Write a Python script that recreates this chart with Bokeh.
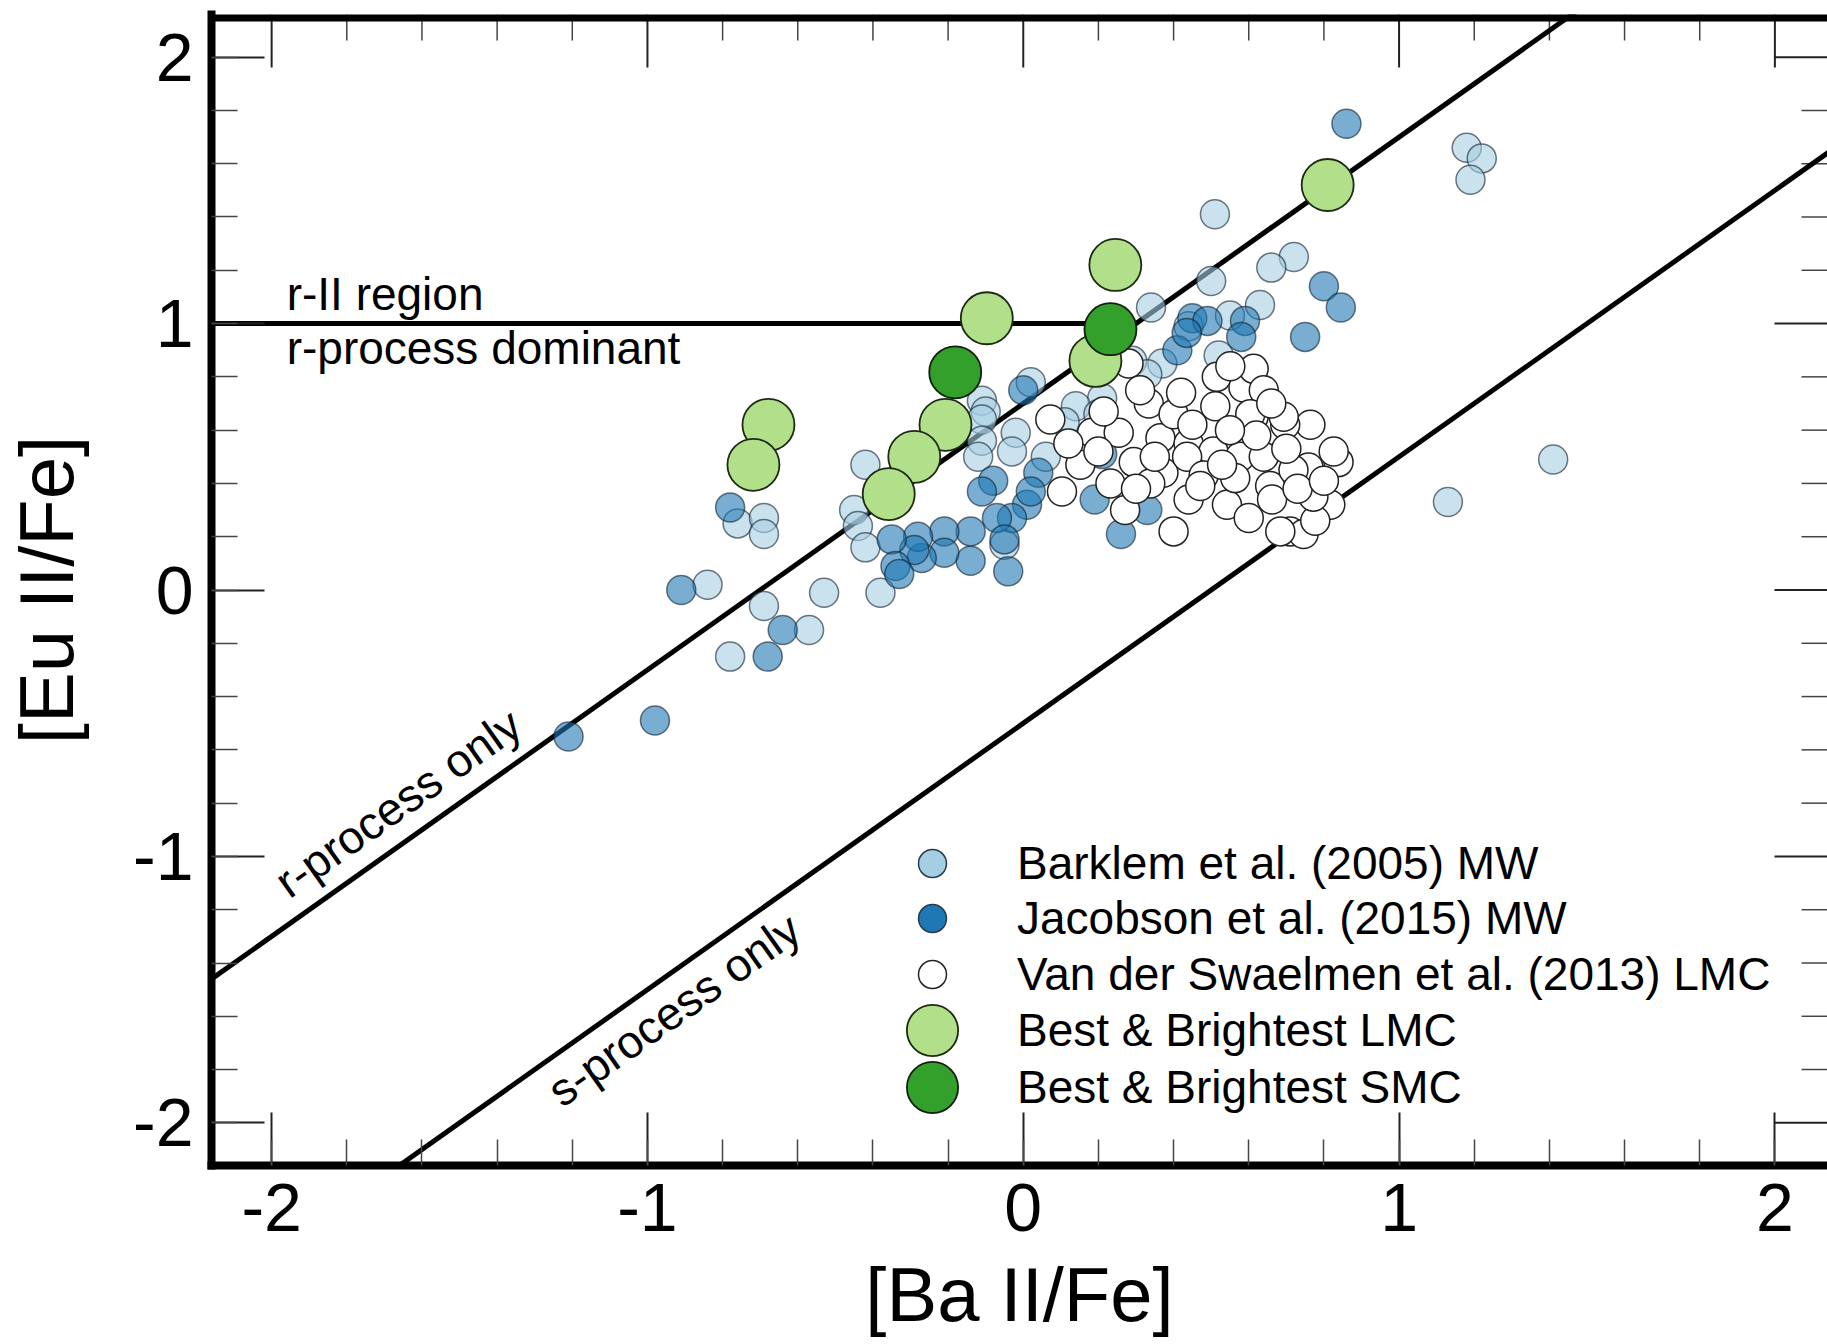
import numpy as np
from bokeh.plotting import figure
from bokeh.models import (Range1d, SingleIntervalTicker, Legend, LegendItem, Label, Span)
from bokeh.embed import file_html
from bokeh.resources import INLINE

FONT = "Liberation Sans"

# ---- data: [Ba II/Fe] (x) and [Eu II/Fe] (y) ----
barklem_ba = [1.18, 1.22, 1.19, 0.51, 0.72, 0.66, 0.50, 0.34, 0.63, 0.44, 0.55,
              1.13, 1.41, 0.52, 0.37, 0.29, 0.33, 0.21, 0.14, 0.02, -0.11, -0.10,
              -0.11, -0.11, -0.12, -0.02, -0.03, 0.06, -0.05, -0.42, -0.45, -0.44,
              -0.42, -0.38, -0.53, -0.57, -0.69, -0.84, -0.78, -0.76, -0.69, -0.69,
              0.20, 0.11]
barklem_eu = [1.66, 1.62, 1.54, 1.41, 1.25, 1.21, 1.16, 1.06, 1.07, 0.99, 1.03,
              0.33, 0.49, 0.88, 0.85, 0.86, 0.81, 0.72, 0.69, 0.78, 0.71, 0.67,
              0.64, 0.56, 0.50, 0.59, 0.52, 0.50, 0.17, 0.47, 0.30, 0.24,
              0.16, -0.01, -0.01, -0.15, -0.06, 0.02, -0.25, 0.25, 0.27, 0.21,
              0.66, 0.63]

jacobson_ba = [0.86, 0.80, 0.845, 0.75, 0.45, 0.59, 0.58, 0.41, 0.49, 0.435,
               0.00, -0.08, -0.11, 0.04, 0.01, -0.03, -0.07, -0.05, -0.04, -0.14,
               -0.14, -0.21, -0.21, -0.27, -0.28, -0.29, -0.35, -0.34, -0.33, 0.19,
               0.26, 0.33, 0.21, -1.21, -0.98, -0.68, -0.64, -0.91, -0.78, 0.02]
jacobson_eu = [1.75, 1.14, 1.06, 0.95, 1.02, 1.01, 0.95, 0.90, 1.01, 0.965,
               0.75, 0.41, 0.37, 0.44, 0.32, 0.27, 0.27, 0.19, 0.07, 0.22,
               0.11, 0.22, 0.14, 0.12, 0.20, 0.15, 0.19, 0.09, 0.06, 0.34,
               0.21, 0.30, 0.51, -0.55, -0.49, -0.25, -0.15, 0.00, 0.31, 0.37]

vds_ba = [0.28, 0.515, 0.586, 0.613, 0.64, 0.334, 0.511, 0.613, 0.764, 0.072,
          0.183, 0.254, 0.365, 0.44, 0.506, 0.577, 0.64, 0.759, 0.839, 0.152,
          0.294, 0.232, 0.373, 0.436, 0.103, 0.271, 0.40, 0.44, 0.542, 0.564,
          0.657, 0.662, 0.786, 0.817, 0.71, 0.746, 0.777, 0.684, 0.719, 0.48,
          0.529, 0.40, 0.311, 0.551, 0.697, 0.826, 0.471, 0.338, 0.214, 0.772,
          0.693, 0.604, 0.45, 0.35, 0.62, 0.70, 0.55, 0.20, 0.60, 0.30,
          0.73, 0.66, 0.42, 0.80, 0.12]
vds_eu = [0.85, 0.80, 0.76, 0.83, 0.75, 0.70, 0.69, 0.65, 0.62, 0.64,
          0.59, 0.59, 0.57, 0.55, 0.52, 0.50, 0.50, 0.46, 0.48, 0.47,
          0.48, 0.40, 0.44, 0.50, 0.37, 0.30, 0.22, 0.34, 0.32, 0.42,
          0.39, 0.34, 0.37, 0.32, 0.22, 0.21, 0.26, 0.22, 0.45, 0.43,
          0.47, 0.66, 0.75, 0.84, 0.62, 0.52, 0.39, 0.40, 0.67, 0.35,
          0.65, 0.66, 0.62, 0.50, 0.58, 0.53, 0.60, 0.52, 0.27, 0.38,
          0.38, 0.70, 0.74, 0.41, 0.55]

lmc_ba = [0.81, 0.245, -0.097, 0.192, -0.207, -0.29, -0.358, -0.678, -0.718]
lmc_eu = [1.52, 1.22, 1.02, 0.86, 0.62, 0.50, 0.36, 0.62, 0.47]

smc_ba = [0.232, -0.181]
smc_eu = [0.979, 0.817]

# reference ratios
R_PROCESS_EU_BA = 0.7    # pure r-process [Eu/Ba]
S_PROCESS_EU_BA = -0.5   # pure s-process [Eu/Ba]
R2_LIMIT = 1.0           # r-II threshold in [Eu/Fe]

X_LO, X_HI = -2.16, 2.14
Y_LO, Y_HI = -2.16, 2.16

W, H = 1827, 1344
BORDER_L, BORDER_T, BORDER_B = 211, 14, 179
FRAME_W = W - BORDER_L
FRAME_H = H - BORDER_T - BORDER_B
PX_X = FRAME_W / (X_HI - X_LO)   # screen px per data unit
PX_Y = FRAME_H / (Y_HI - Y_LO)

p = figure(width=W, height=H, output_backend="svg", toolbar_location=None,
           x_range=Range1d(X_LO, X_HI), y_range=Range1d(Y_LO, Y_HI),
           min_border_left=BORDER_L, min_border_right=0, min_border_top=BORDER_T,
           min_border_bottom=BORDER_B, x_axis_label="[Ba II/Fe]",
           y_axis_label="[Eu II/Fe]")
p.xgrid.visible = False
p.ygrid.visible = False
p.outline_line_color = None
p.background_fill_color = "white"
p.border_fill_color = "white"

FRAME_LW = 8
MAJOR_LEN, MINOR_LEN = 53, 26
tick_labels = {v: str(v) for v in (-2, -1, 0, 1, 2)}

for ax, standoff in ((p.xaxis[0], 18), (p.yaxis[0], 41)):
    ax.ticker = SingleIntervalTicker(interval=1, num_minor_ticks=5)
    ax.axis_line_color = "black"
    ax.axis_line_width = FRAME_LW
    ax.axis_line_cap = "square"
    ax.major_tick_in = MAJOR_LEN
    ax.major_tick_out = 0
    ax.minor_tick_in = MINOR_LEN
    ax.minor_tick_out = 0
    ax.major_tick_line_color = "#222222"
    ax.major_tick_line_width = 2
    ax.minor_tick_line_color = "#444444"
    ax.minor_tick_line_width = 1.5
    ax.major_label_overrides = tick_labels
    ax.major_label_text_font = FONT
    ax.major_label_text_font_size = "68px"
    ax.major_label_text_color = "black"
    ax.major_label_standoff = 18
    ax.axis_label_text_font = FONT
    ax.axis_label_text_font_size = "76px"
    ax.axis_label_text_font_style = "normal"
    ax.axis_label_text_color = "black"
    ax.axis_label_standoff = standoff

# top edge of the frame (the right edge runs off the page); the span is clipped
# to the frame, so only its lower half shows
p.add_layout(Span(location=Y_HI, dimension="width", line_color="black",
                  line_width=2 * FRAME_LW - 2, line_cap="square"))

# mirrored inward ticks on the top and right edges
all_ticks = np.round(np.arange(-2.0, 2.01, 0.2), 1)
x_ticks = all_ticks[(all_ticks > X_LO) & (all_ticks < X_HI)]
x_major = np.isclose(x_ticks, np.round(x_ticks))
y_ticks = all_ticks[(all_ticks > Y_LO) & (all_ticks < Y_HI)]
y_major = np.isclose(y_ticks, np.round(y_ticks))

for major, width, color, length in ((True, 2, "#222222", MAJOR_LEN),
                                    (False, 1.5, "#444444", MINOR_LEN)):
    tx = x_ticks[x_major == major]
    p.segment(x0=tx, y0=np.full(len(tx), Y_HI), x1=tx,
              y1=np.full(len(tx), Y_HI - length / PX_Y),
              line_color=color, line_width=width)
    ty = y_ticks[y_major == major]
    p.segment(x0=np.full(len(ty), X_HI), y0=ty,
              x1=np.full(len(ty), X_HI - length / PX_X), y1=ty,
              line_color=color, line_width=width)

# reference lines
xs = np.array([-3.0, 3.0])
p.line(xs, xs + R_PROCESS_EU_BA, line_color="black", line_width=5)
p.line(xs, xs + S_PROCESS_EU_BA, line_color="black", line_width=5)
p.line([-3.0, R2_LIMIT - R_PROCESS_EU_BA], [R2_LIMIT, R2_LIMIT],
       line_color="black", line_width=5)

SMALL = 29
BIG = 52

p.scatter(barklem_ba, barklem_eu, size=SMALL, fill_color="#a6cee3", fill_alpha=0.6,
          line_color="#10202e", line_alpha=0.6, line_width=1.5)
p.scatter(jacobson_ba, jacobson_eu, size=SMALL, fill_color="#1f78b4", fill_alpha=0.6,
          line_color="#10202e", line_alpha=0.6, line_width=1.5)
p.scatter(vds_ba, vds_eu, size=SMALL, fill_color="white", fill_alpha=1.0,
          line_color="#222222", line_width=1.5)
p.scatter(lmc_ba, lmc_eu, size=BIG, fill_color="#b2df8a", line_color="#1c2a12",
          line_width=1.8)
p.scatter(smc_ba, smc_eu, size=BIG, fill_color="#33a02c", line_color="#10200c",
          line_width=1.8)

# legend swatches: opaque markers that hold a single non-plotted (NaN) point
nan = np.array([np.nan])
entries = [
    ("Barklem et al. (2005) MW", "#a6cee3", "#2a3a48", 1.5, 70, 50, 267),
    ("Jacobson et al. (2015) MW", "#1f78b4", "#2a3a48", 1.5, 70, 50, 212),
    ("Van der Swaelmen et al. (2013) LMC", "white", "#222222", 1.5, 70, 50, 156),
    ("Best & Brightest LMC", "#b2df8a", "#1c2a12", 1.8, 128, 21, 71),
    ("Best & Brightest SMC", "#33a02c", "#10200c", 1.8, 128, 21, 14),
]
LEGEND_CENTER_X = 721   # swatch centre, px from the frame's left edge
for label, fill, line, lw, box, standoff, bottom in entries:
    r = p.scatter(nan, nan, fill_color=fill, line_color=line, line_width=lw)
    p.add_layout(Legend(items=[LegendItem(label=label, renderers=[r])],
                        location=(LEGEND_CENTER_X - box // 2, bottom),
                        glyph_width=box, glyph_height=box, label_standoff=standoff,
                        padding=0, margin=0, spacing=0, border_line_color=None,
                        background_fill_alpha=0, label_text_font=FONT,
                        label_text_font_size="46px", label_text_color="black"))

# region annotations
angle = np.arctan2(PX_Y, PX_X)
for x, y, txt, ang in [(-1.96, 1.11, "r-II region", 0.0),
                       (-1.96, 0.908, "r-process dominant", 0.0),
                       (-1.977, -1.113, "r-process only", angle),
                       (-1.251, -1.897, "s-process only", angle)]:
    p.add_layout(Label(x=x, y=y, text=txt, angle=ang, text_font=FONT,
                       text_font_size="46px", text_color="black",
                       text_baseline="alphabetic", text_align="left"))

open("out.html", "w").write(file_html(p, INLINE))
